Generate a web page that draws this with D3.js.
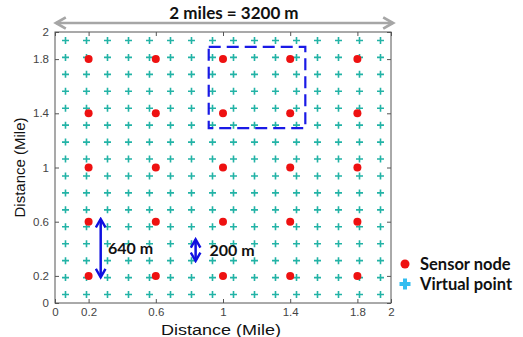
<!DOCTYPE html>
<html>
<head>
<meta charset="utf-8">
<script src="https://cdn.jsdelivr.net/npm/d3@7"></script>
<style>
  html, body { margin: 0; padding: 0; background: #fff; }
  svg { display: block; }
</style>
</head>
<body>
<div id="chart"></div>
<script>
// sensor nodes sit on a 0.4 mile lattice
const sensorX = [0.2, 0.6, 1.0, 1.4, 1.8];
const sensorY = [0.2, 0.6, 1.0, 1.4, 1.8];
// virtual points every 200 m (0.125 mile)
const virtualX = [0.0625, 0.1875, 0.3125, 0.4375, 0.5625, 0.6875, 0.8125, 0.9375,
                  1.0625, 1.1875, 1.3125, 1.4375, 1.5625, 1.6875, 1.8125, 1.9375];
const virtualY = [0.0625, 0.1875, 0.3125, 0.4375, 0.5625, 0.6875, 0.8125, 0.9375,
                  1.0625, 1.1875, 1.3125, 1.4375, 1.5625, 1.6875, 1.8125, 1.9375];
const tickVals = [0, 0.2, 0.6, 1, 1.4, 1.8, 2];
const tickLabels = ['0', '0.2', '0.6', '1', '1.4', '1.8', '2'];
// zoomed area (x0, x1, y0, y1)
const boxArea = [0.915, 1.49, 1.29, 1.89];
const legendItems = ['Sensor node', 'Virtual point'];

const W = 523, H = 337;
const m = { left: 55, right: 132, top: 32, bottom: 34 };

const svg = d3.select('#chart').append('svg').attr('width', W).attr('height', H);

const x = d3.scaleLinear().domain([0, 2]).range([m.left, W - m.right]);
const y = d3.scaleLinear().domain([0, 2]).range([H - m.bottom, m.top]);

const axisFont = 'Liberation Sans, Arial, sans-serif';
const boldFont = 'Lato, Open Sans, sans-serif';

// frame
svg.append('rect')
  .attr('x', x(0)).attr('y', y(2))
  .attr('width', x(2) - x(0)).attr('height', y(0) - y(2))
  .attr('fill', 'none').attr('stroke', '#555').attr('stroke-width', 1);

// ticks, matlab style (inside)
const fmt = (d) => tickLabels[tickVals.indexOf(d)];
const xb = svg.append('g').attr('transform', `translate(0,${y(0)})`)
  .call(d3.axisBottom(x).tickValues(tickVals).tickFormat(fmt).tickSizeInner(-4).tickSizeOuter(0).tickPadding(5));
const xt = svg.append('g').attr('transform', `translate(0,${y(2)})`)
  .call(d3.axisTop(x).tickValues(tickVals).tickFormat('').tickSizeInner(-4).tickSizeOuter(0));
const yl = svg.append('g').attr('transform', `translate(${x(0)},0)`)
  .call(d3.axisLeft(y).tickValues(tickVals).tickFormat(fmt).tickSizeInner(-4).tickSizeOuter(0).tickPadding(6));
const yr = svg.append('g').attr('transform', `translate(${x(2)},0)`)
  .call(d3.axisRight(y).tickValues(tickVals).tickFormat('').tickSizeInner(-4).tickSizeOuter(0));
[xb, xt, yl, yr].forEach(g => {
  g.select('.domain').remove();
  g.selectAll('line').attr('stroke', '#555');
  g.selectAll('text').attr('fill', '#444').attr('font-family', axisFont).attr('font-size', 11.5);
});

// virtual points
const vpts = [];
virtualX.forEach(vx => virtualY.forEach(vy => vpts.push([vx, vy])));
svg.append('g').selectAll('path').data(vpts).join('path')
  .attr('d', d => `M${x(d[0]) - 3.5},${y(d[1])}h7M${x(d[0])},${y(d[1]) - 3.5}v7`)
  .attr('stroke', '#22b3a6').attr('stroke-width', 1.6).attr('fill', 'none');

// sensor nodes
const spts = [];
sensorX.forEach(sx => sensorY.forEach(sy => spts.push([sx, sy])));
svg.append('g').selectAll('circle').data(spts).join('circle')
  .attr('cx', d => x(d[0])).attr('cy', d => y(d[1])).attr('r', 4)
  .attr('fill', '#ee1111');

// dashed zoom box
svg.append('rect')
  .attr('x', x(boxArea[0])).attr('y', y(boxArea[3]))
  .attr('width', x(boxArea[1]) - x(boxArea[0])).attr('height', y(boxArea[2]) - y(boxArea[3]))
  .attr('fill', 'none').attr('stroke', '#1a1ae6').attr('stroke-width', 2.2)
  .attr('stroke-dasharray', '12,6');

// arrow heads
const defs = svg.append('defs');
function marker(id, color, size) {
  defs.append('marker').attr('id', id).attr('viewBox', '0 0 10 10')
    .attr('refX', 8).attr('refY', 5).attr('markerWidth', size).attr('markerHeight', size)
    .attr('orient', 'auto-start-reverse').attr('markerUnits', 'userSpaceOnUse')
    .append('path').attr('d', 'M1,1L8,5L1,9').attr('fill', 'none').attr('stroke', color).attr('stroke-width', 2);
}
marker('ag', '#a6a6a6', 14);
marker('ab', '#1010e0', 12);

// top span arrow
svg.append('line').attr('x1', x(0) + 1).attr('x2', x(2) + 2).attr('y1', 23).attr('y2', 23)
  .attr('stroke', '#a6a6a6').attr('stroke-width', 2.5)
  .attr('marker-start', 'url(#ag)').attr('marker-end', 'url(#ag)');
svg.append('text').attr('x', 234).attr('y', 19).attr('text-anchor', 'middle')
  .attr('font-family', boldFont).attr('font-weight', 'bold').attr('font-size', 17)
  .attr('fill', '#111').text('2 miles = 3200 m');

// spacing arrows
function vArrow(ax, y0, y1, label, lx) {
  svg.append('line').attr('x1', x(ax)).attr('x2', x(ax)).attr('y1', y(y0)).attr('y2', y(y1))
    .attr('stroke', '#1010e0').attr('stroke-width', 2.5)
    .attr('marker-start', 'url(#ab)').attr('marker-end', 'url(#ab)');
  svg.append('text').attr('x', x(lx)).attr('y', y((y0 + y1) / 2)).attr('dy', '0.35em')
    .attr('font-family', boldFont).attr('font-weight', 'bold').attr('font-size', 16)
    .attr('fill', '#111').text(label);
}
vArrow(0.272, 0.19, 0.62, '640 m', 0.315);
vArrow(0.837, 0.31, 0.47, '200 m', 0.92);

// axis titles (the original image is a bit stretched sideways)
svg.append('text').attr('transform', `translate(${x(1) - 2},334.5) scale(1.2,1)`).attr('text-anchor', 'middle')
  .attr('font-family', axisFont).attr('font-size', 15).attr('fill', '#111').text('Distance (Mile)');
svg.append('text').attr('transform', `translate(25,${y(1)}) rotate(-90)`).attr('text-anchor', 'middle')
  .attr('font-family', axisFont).attr('font-size', 15).attr('fill', '#111').text('Distance (Mile)');

// legend
const lg = svg.append('g').attr('transform', 'translate(405,264)');
lg.append('circle').attr('cx', 0).attr('cy', 0).attr('r', 4.5).attr('fill', '#ee1111');
lg.append('path').attr('d', 'M-5.5,20h11M0,14.5v11').attr('stroke', '#33bdf0').attr('stroke-width', 4);
lg.selectAll('text').data(legendItems).join('text')
  .attr('x', 15).attr('y', (d, i) => i * 20).attr('dy', '0.35em')
  .attr('font-family', boldFont).attr('font-weight', 'bold').attr('font-size', 16.5)
  .attr('fill', '#111').text(d => d);
</script>
</body>
</html>
